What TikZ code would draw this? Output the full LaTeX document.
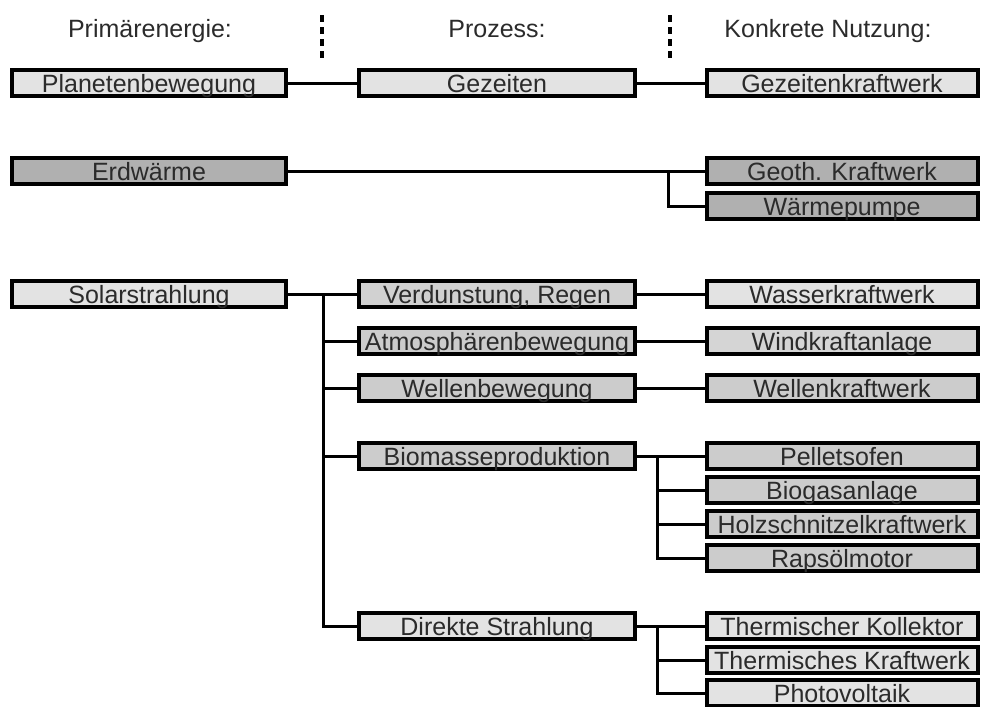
\documentclass[tikz,border=0pt]{standalone}
\usepackage{fontspec}
\setmainfont{Liberation Sans}
\usepackage{tikz}
\usetikzlibrary{positioning}
\definecolor{hell}{gray}{0.89}
\definecolor{mittel}{gray}{0.80}
\definecolor{dunkel}{gray}{0.69}
\definecolor{schrift}{gray}{0.17}

\begin{document}
\begin{tikzpicture}[x=0.5pt, y=-0.5pt,
	feld/.style={draw, line width=2pt, inner sep=0pt, minimum height=13pt, text height=10pt, text depth=1pt, text=schrift, font=\fontsize{12.5}{14}\selectfont},
	links/.style={feld, minimum width=137pt},
	mitte/.style={feld, minimum width=138pt},
	rechts/.style={feld, minimum width=135.5pt},
	kopf/.style={inner sep=0pt, text height=10pt, text depth=1pt, text=schrift, font=\fontsize{12.5}{14}\selectfont},
	linie/.style={line width=1.5pt}]
	\useasboundingbox (0,0) rectangle (982,707);

	% Spaltenkoepfe
	\draw (150, 28) node[kopf] (k1) {Primärenergie:}
	(497, 28) node[kopf] (k2) {Prozess:}
	(828, 28) node[kopf] (k3) {Konkrete Nutzung:};
	\draw[line width=1.6pt, dash pattern=on 3.5pt off 2.5pt] (322, 15) -- (322, 58);
	\draw[line width=1.6pt, dash pattern=on 3.5pt off 2.5pt] (670, 15) -- (670, 58);

	% Primaerenergie
	\draw (149, 83) node[links, fill=hell] (p1) {Planetenbewegung}
	(149, 171) node[links, fill=dunkel] (p2) {Erdwärme}
	(149, 294) node[links, fill=hell] (p3) {Solarstrahlung};

	% Prozess
	\draw (497, 83) node[mitte, fill=hell] (z1) {Gezeiten}
	(497, 294) node[mitte, fill=mittel!80!hell] (z2) {Verdunstung, Regen}
	(497, 341) node[mitte, fill=mittel] (z3) {Atmosphärenbewegung}
	(497, 388) node[mitte, fill=mittel] (z4) {Wellenbewegung}
	(497, 456) node[mitte, fill=mittel] (z5) {Biomasseproduktion}
	(497, 626) node[mitte, fill=hell] (z6) {Direkte Strahlung};

	% Konkrete Nutzung
	\draw (842, 83) node[rechts, fill=hell] (n1) {Gezeitenkraftwerk}
	(842, 171) node[rechts, fill=dunkel] (n2) {Geoth. Kraftwerk}
	(842, 206) node[rechts, fill=dunkel] (n3) {Wärmepumpe}
	(842, 294) node[rechts, fill=hell] (n4) {Wasserkraftwerk}
	(842, 341) node[rechts, fill=mittel!60!hell] (n5) {Windkraftanlage}
	(842, 388) node[rechts, fill=mittel] (n6) {Wellenkraftwerk}
	(842, 456) node[rechts, fill=mittel] (n7) {Pelletsofen}
	(842, 490) node[rechts, fill=mittel] (n8) {Biogasanlage}
	(842, 524) node[rechts, fill=mittel] (n9) {Holzschnitzelkraftwerk}
	(842, 558) node[rechts, fill=mittel] (n10) {Rapsölmotor}
	(842, 626) node[rechts, fill=hell] (n11) {Thermischer Kollektor}
	(842, 660) node[rechts, fill=hell] (n12) {Thermisches Kraftwerk}
	(842, 693) node[rechts, fill=hell] (n13) {Photovoltaik};

	\coordinate (a1) at (668, 171);
	\coordinate (a2) at (323, 294);
	\coordinate (a3) at (657, 456);
	\coordinate (a4) at (657, 626);

	\draw[linie] (p1) -- (z1);
	\draw[linie] (z1) -- (n1);
	\draw[linie] (p2) -- (n2);
	\draw[linie] (a1) |- (n3.west);
	\draw[linie] (p3) -- (z2);
	\draw[linie] (a2) |- (z3.west);
	\draw[linie] (a2) |- (z4.west);
	\draw[linie] (a2) |- (z5.west);
	\draw[linie] (a2) |- (z6.west);
	\draw[linie] (z2) -- (n4);
	\draw[linie] (z3) -- (n5);
	\draw[linie] (z4) -- (n6);
	\draw[linie] (z5) -- (n7);
	\draw[linie] (a3) |- (n8.west);
	\draw[linie] (a3) |- (n9.west);
	\draw[linie] (a3) |- (n10.west);
	\draw[linie] (z6) -- (n11);
	\draw[linie] (a4) |- (n12.west);
	\draw[linie] (a4) |- (n13.west);
\end{tikzpicture}
\end{document}
